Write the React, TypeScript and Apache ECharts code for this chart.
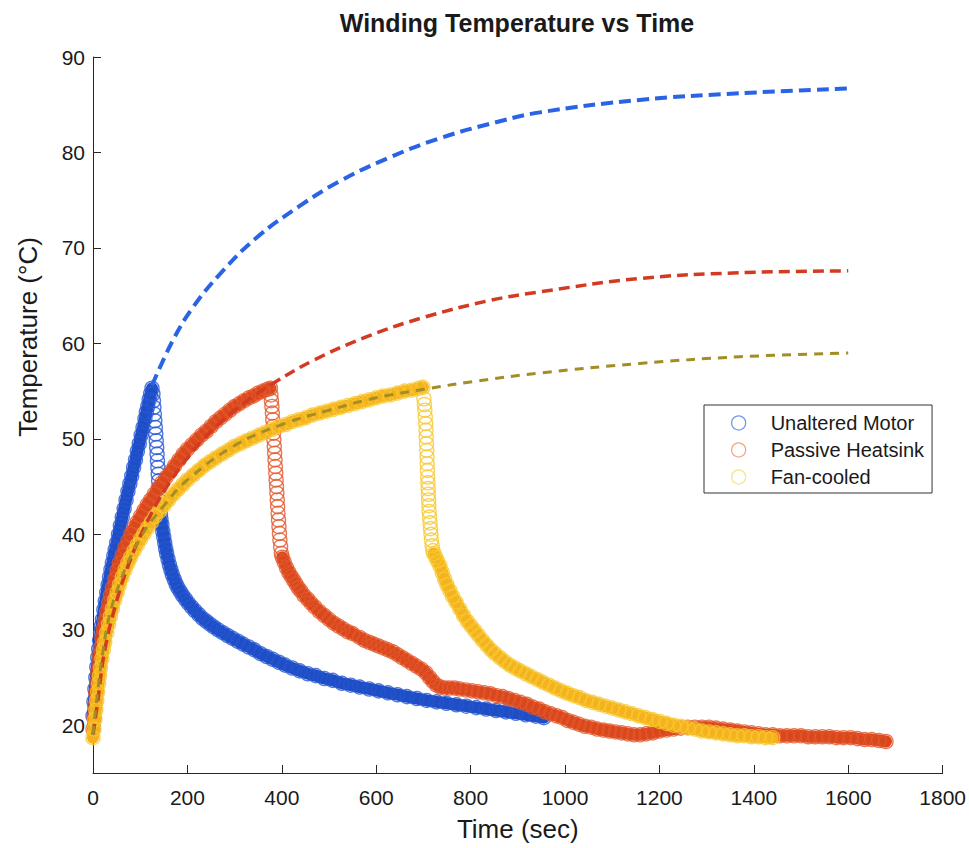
import React, { useEffect, useRef } from "react";
import * as echarts from "echarts";

// ---------- data: [time (s), temperature (°C)] ----------
const blueHeat = [
  [0, 21.0], [2, 22.5], [4, 23.8], [6, 25.0], [8, 26.1], [10, 27.1], [12, 28.0], [14, 28.9],
  [16, 29.7], [18, 30.4], [20, 31.1], [23, 32.1], [26, 33.0], [29, 33.9], [32, 34.7], [35, 35.5],
  [38, 36.3], [41, 37.0], [44, 37.7], [47, 38.4], [50, 39.1], [54, 40.0], [58, 40.9], [62, 41.8],
  [66, 42.7], [70, 43.6], [74, 44.5], [78, 45.3], [82, 46.1], [86, 47.0], [90, 47.8], [94, 48.7],
  [98, 49.5], [102, 50.4], [106, 51.2], [110, 52.1], [113, 52.8], [116, 53.4], [119, 54.1],
  [122, 54.7], [125, 55.3],
];
const blueDrop = [
  [127, 54.7], [128, 54.0], [129, 53.3], [130, 52.6], [131, 51.9], [132, 51.2], [133, 50.5],
  [134, 49.8], [135, 49.1], [135.8, 48.4], [136.6, 47.7], [137.4, 47.0], [138.2, 46.3], [139, 45.6],
  [139.8, 44.9], [140.6, 44.2], [141.4, 43.5], [142.2, 42.8], [143, 42.1],
];
const blueCool = [
  [144, 41.6], [146, 41.0], [148, 40.3], [150, 39.7], [152, 39.1], [154, 38.5], [156, 38.0],
  [159, 37.4], [162, 36.8], [165, 36.3], [168, 35.8], [172, 35.3], [176, 34.8], [180, 34.4],
  [185, 34.0], [190, 33.6], [196, 33.2], [202, 32.8], [209, 32.4], [216, 32.0], [224, 31.6],
  [232, 31.2], [240, 30.9], [248, 30.6], [256, 30.3], [265, 30.0], [275, 29.7], [285, 29.4],
  [296, 29.1], [307, 28.8], [318, 28.5], [330, 28.2], [342, 27.9], [355, 27.5], [368, 27.2],
  [381, 26.9], [394, 26.6], [407, 26.3], [422, 26.0], [438, 25.7], [455, 25.4], [472, 25.2],
  [490, 24.9], [508, 24.7], [527, 24.4], [546, 24.2], [565, 24.0], [585, 23.8], [605, 23.6],
  [625, 23.4], [645, 23.2], [665, 23.0], [686, 22.8], [707, 22.6], [728, 22.45], [749, 22.3],
  [770, 22.15], [791, 22.0], [812, 21.85], [833, 21.7], [854, 21.55], [875, 21.4], [896, 21.25],
  [917, 21.1], [938, 20.95], [955, 20.8],
];

const redHeat = [
  [0, 19.6], [2, 20.8], [4, 22.1], [6, 23.4], [8, 24.6], [10, 25.6], [12, 26.5], [14, 27.3],
  [16, 28.1], [19, 29.2], [22, 30.1], [25, 30.9], [29, 31.9], [33, 32.8], [37, 33.6], [41, 34.4],
  [46, 35.3], [51, 36.2], [56, 37.0], [62, 37.8], [68, 38.6], [74, 39.3], [80, 40.0], [87, 40.7],
  [94, 41.3], [101, 41.9], [108, 42.5], [115, 43.1], [122, 43.6], [130, 44.2], [138, 44.8],
  [146, 45.4], [155, 46.0], [164, 46.6], [173, 47.2], [182, 47.8], [191, 48.4], [200, 48.9],
  [210, 49.4], [220, 49.9], [230, 50.4], [240, 50.8], [250, 51.3], [260, 51.8], [270, 52.2],
  [280, 52.6], [290, 53.0], [300, 53.4], [310, 53.7], [320, 54.0], [330, 54.3], [340, 54.5],
  [350, 54.8], [360, 55.0], [370, 55.2], [376, 55.3],
];
const redDrop = [
  [377, 54.6], [378, 54.0], [379, 53.4], [380, 52.7], [380.8, 52.0], [381.6, 51.3], [382.4, 50.6],
  [383.2, 49.9], [384, 49.2], [384.8, 48.5], [385.6, 47.8], [386.4, 47.1], [387.2, 46.4],
  [388, 45.7], [388.8, 45.0], [389.6, 44.3], [390.4, 43.6], [391.2, 42.9], [392, 42.2],
  [393, 41.5], [394, 40.8], [395, 40.1], [396, 39.4], [397.5, 38.7], [399, 38.0],
];
const redCool = [
  [401, 37.6], [405, 37.1], [410, 36.5], [415, 36.0], [420, 35.6], [425, 35.2], [430, 34.8],
  [435, 34.4], [440, 34.1], [447, 33.6], [455, 33.2], [462, 32.8], [470, 32.4], [480, 31.9],
  [490, 31.5], [500, 31.1], [510, 30.7], [520, 30.4], [530, 30.1], [540, 29.8], [550, 29.6],
  [565, 29.2], [575, 28.9], [585, 28.7], [595, 28.5], [605, 28.3],
  [615, 28.1], [625, 27.9], [635, 27.7], [645, 27.4], [655, 27.1], [665, 26.8], [675, 26.5],
  [685, 26.2], [695, 25.9], [705, 25.5], [713, 25.0], [720, 24.6], [728, 24.2], [736, 24.0],
  [745, 23.9], [755, 23.9], [766, 23.9], [777, 23.8], [790, 23.7], [803, 23.6], [816, 23.5],
  [829, 23.4], [842, 23.3], [855, 23.1], [868, 23.0], [880, 22.8], [893, 22.6], [906, 22.4],
  [919, 22.2], [932, 21.9], [945, 21.7], [958, 21.4], [970, 21.2], [982, 21.0], [994, 20.8],
  [1006, 20.5], [1018, 20.3], [1030, 20.1], [1042, 19.9], [1055, 19.8], [1068, 19.6],
  [1081, 19.5], [1094, 19.4], [1107, 19.3], [1120, 19.2], [1133, 19.1], [1146, 19.0],
  [1159, 19.0], [1172, 19.1], [1186, 19.2], [1200, 19.4], [1215, 19.5], [1230, 19.6],
  [1245, 19.7], [1260, 19.8], [1275, 19.8], [1290, 19.8], [1305, 19.8], [1320, 19.7],
  [1335, 19.6], [1350, 19.5], [1365, 19.4], [1380, 19.3], [1395, 19.2], [1410, 19.1],
  [1425, 19.0], [1440, 19.0], [1455, 18.9], [1470, 18.9], [1485, 18.9], [1500, 18.9],
  [1515, 18.8], [1530, 18.8], [1545, 18.8], [1560, 18.8], [1575, 18.7], [1590, 18.7],
  [1605, 18.7], [1620, 18.6], [1635, 18.5], [1650, 18.5], [1665, 18.4], [1680, 18.3],
];

const fanHeat = [
  [0, 18.7], [2, 19.6], [4, 20.6], [6, 21.6], [8, 22.6], [10, 23.5], [12, 24.4], [14, 25.2],
  [16, 26.0], [19, 27.0], [22, 27.9], [25, 28.7], [29, 29.7], [33, 30.6], [37, 31.4], [41, 32.2],
  [46, 33.1], [51, 33.9], [56, 34.7], [62, 35.5], [68, 36.3], [74, 37.0], [80, 37.6], [87, 38.3],
  [94, 38.9], [101, 39.5], [108, 40.1], [116, 40.7], [124, 41.3], [132, 41.9], [140, 42.4],
  [150, 43.0], [160, 43.6], [170, 44.2], [180, 44.7], [190, 45.2], [200, 45.7], [212, 46.2],
  [224, 46.7], [236, 47.2], [248, 47.6], [260, 48.0], [273, 48.4], [286, 48.8], [299, 49.2],
  [312, 49.5], [325, 49.8], [338, 50.1], [352, 50.4], [366, 50.7], [380, 51.0], [394, 51.3],
  [408, 51.5], [422, 51.8], [436, 52.0], [450, 52.2], [465, 52.5], [480, 52.7], [495, 52.9],
  [510, 53.1], [525, 53.3], [540, 53.5], [555, 53.7], [570, 53.9], [585, 54.1], [600, 54.3],
  [615, 54.5], [630, 54.6], [645, 54.8], [660, 55.0], [675, 55.1], [690, 55.3], [699, 55.4],
];
const fanDrop = [
  [701, 54.2], [702, 53.6], [703, 53.0], [704, 52.3], [705, 51.6], [705.5, 50.9], [706, 50.2],
  [706.5, 49.5], [707, 48.8], [707.5, 48.1], [708, 47.4], [708.5, 46.7], [709, 46.0],
  [709.5, 45.4], [710, 44.8], [710.5, 44.2], [711, 43.6], [711.5, 43.0], [712, 42.4],
  [713, 41.8], [714, 41.2], [715, 40.6], [716, 40.0], [717, 39.4], [718.5, 38.8], [720, 38.3],
];
const fanCool = [
  [722, 38.0], [726, 37.6], [730, 37.2], [735, 36.7], [740, 36.0], [745, 35.3], [750, 34.7],
  [756, 34.1], [762, 33.5], [769, 32.9], [777, 32.2], [785, 31.5], [793, 30.9], [801, 30.4],
  [809, 29.9], [817, 29.4], [825, 28.9], [834, 28.4], [843, 27.9], [852, 27.5], [862, 27.1],
  [872, 26.7], [883, 26.3], [894, 26.0], [905, 25.7], [917, 25.4], [929, 25.1], [941, 24.8],
  [953, 24.5], [966, 24.2], [979, 23.9], [992, 23.6], [1005, 23.35], [1018, 23.1], [1031, 22.9],
  [1044, 22.6], [1058, 22.4], [1072, 22.2], [1086, 22.0], [1100, 21.8], [1114, 21.6],
  [1128, 21.4], [1142, 21.2], [1156, 21.0], [1170, 20.8], [1185, 20.6], [1200, 20.4],
  [1215, 20.2], [1230, 20.0], [1245, 19.9], [1260, 19.7], [1275, 19.6], [1290, 19.4],
  [1305, 19.3], [1320, 19.2], [1335, 19.1], [1350, 19.0], [1365, 18.9], [1380, 18.9],
  [1395, 18.8], [1410, 18.8], [1425, 18.7], [1440, 18.7],
];

// fitted model curves (dashed)
const blueFit = [
  [125, 55.6], [169, 60.3], [212, 63.8], [275, 67.6], [347, 71.1], [438, 74.4], [523, 77.0],
  [629, 79.5], [735, 81.5], [841, 83.0], [947, 84.2], [1158, 85.5], [1370, 86.2], [1600, 86.7],
];
const redFit = [
  [0, 19.0], [10, 22.5], [25, 27.9], [50, 33.0], [75, 36.8], [100, 39.8], [125, 42.3],
  [150, 44.5], [200, 48.0], [250, 50.8], [300, 53.0], [350, 54.8], [381, 55.8], [466, 58.2],
  [580, 60.7], [699, 62.7], [841, 64.5], [947, 65.4], [1158, 66.8], [1370, 67.4], [1600, 67.6],
];
const fanFit = [
  [0, 19.0], [25, 29.0], [50, 34.0], [100, 39.6], [150, 43.0], [200, 45.7], [300, 49.3],
  [400, 51.5], [500, 53.0], [600, 54.3], [714, 55.3], [805, 56.0], [947, 56.9], [1158, 57.9],
  [1370, 58.6], [1600, 59.0],
];

const seriesNames = ["Unaltered Motor", "Passive Heatsink", "Fan-cooled"];

const FONT = '"Liberation Sans", Arial, Helvetica, sans-serif';
const AXIS = "#262626";
const TXT = "#1a1a1a";

const COLORS = {
  blue: { band: "#1f4ec4", ring: "#2456d4", legend: "#4d7ee8", fit: "#2a63e3" },
  red: { band: "#d9471c", ring: "#e3562b", legend: "#ef9068", fit: "#d43a22" },
  fan: { band: "#f5b21e", ring: "#f6c82e", legend: "#f2df66", fit: "#a48d25" },
};

function band(name: string, data: number[][], color: string, z: number) {
  return {
    type: "line",
    name,
    data,
    showSymbol: false,
    symbol: "none",
    silent: true,
    z,
    lineStyle: { color, width: 12, cap: "round", join: "round" },
  };
}

function rings(name: string, data: number[][], color: string, z: number) {
  return {
    type: "scatter",
    name,
    data,
    symbol: "circle",
    symbolSize: 14,
    silent: true,
    z,
    itemStyle: { color: "rgba(0,0,0,0)", borderColor: color, borderWidth: 1.4 },
  };
}

function fit(name: string, data: number[][], color: string, width: number, dash: number[]) {
  return {
    type: "line",
    name,
    data,
    smooth: 0.4,
    showSymbol: false,
    symbol: "none",
    silent: true,
    z: 10,
    lineStyle: { color, width, type: dash, cap: "butt" },
  };
}

export default function App() {
  const ref = useRef<HTMLDivElement>(null);

  useEffect(() => {
    if (!ref.current) return;
    const chart = echarts.init(ref.current, undefined, { renderer: "svg" });
    const option = {
      animation: false,
      backgroundColor: "#ffffff",
      title: {
        text: "Winding Temperature vs Time",
        left: 512,
        top: 5,
        textAlign: "center",
        textStyle: { fontFamily: FONT, fontSize: 25, fontWeight: "bold", color: TXT },
      },
      grid: { left: 93, right: 26, top: 57, bottom: 75 },
      xAxis: {
        type: "value",
        min: 0,
        max: 1800,
        interval: 200,
        name: "Time (sec)",
        nameLocation: "middle",
        nameGap: 43,
        nameTextStyle: { fontFamily: FONT, fontSize: 26, color: TXT },
        axisLine: { show: true, onZero: false, lineStyle: { color: AXIS, width: 1 } },
        axisTick: { show: true, inside: true, length: 8, lineStyle: { color: AXIS, width: 1 } },
        axisLabel: {
          fontFamily: FONT,
          fontSize: 21,
          color: TXT,
          margin: 14,
          formatter: (v: number) => String(v),
        },
        splitLine: { show: false },
      },
      yAxis: {
        type: "value",
        min: 15,
        max: 90,
        splitNumber: 8,
        minInterval: 10,
        maxInterval: 10,
        axisLine: { show: true, onZero: false, lineStyle: { color: AXIS, width: 1 } },
        axisTick: { show: true, inside: true, length: 8, lineStyle: { color: AXIS, width: 1 } },
        axisLabel: {
          fontFamily: FONT,
          fontSize: 21,
          color: TXT,
          margin: 8,
          showMinLabel: false,
          formatter: (v: number) => String(v),
        },
        splitLine: { show: false },
      },
      legend: {
        orient: "vertical",
        left: 704,
        top: 405,
        z: 20,
        backgroundColor: "#ffffff",
        borderColor: "#333333",
        borderWidth: 1,
        borderRadius: 0,
        padding: [8, 8, 6, 27],
        itemWidth: 54,
        itemHeight: 14,
        itemGap: 7,
        selectedMode: false,
        textStyle: { fontFamily: FONT, fontSize: 20, color: TXT },
        data: [
          { name: seriesNames[0], icon: "circle", itemStyle: { color: "rgba(0,0,0,0)", borderColor: COLORS.blue.legend, borderWidth: 1.3 } },
          { name: seriesNames[1], icon: "circle", itemStyle: { color: "rgba(0,0,0,0)", borderColor: COLORS.red.legend, borderWidth: 1.3 } },
          { name: seriesNames[2], icon: "circle", itemStyle: { color: "rgba(0,0,0,0)", borderColor: COLORS.fan.legend, borderWidth: 1.3 } },
        ],
      },
      graphic: [
        {
          type: "text",
          x: 28,
          y: 337,
          rotation: Math.PI / 2,
          silent: true,
          style: {
            text: "Temperature (°C)",
            fontFamily: FONT,
            fontSize: 26,
            fill: TXT,
            align: "center",
            verticalAlign: "middle",
          },
        },
      ],
      series: [
        band("blue-band-a", blueHeat, COLORS.blue.band, 2),
        band("blue-band-b", blueCool, COLORS.blue.band, 2),
        rings(seriesNames[0], [...blueHeat, ...blueDrop, ...blueCool], COLORS.blue.ring, 3),
        band("red-band-a", redHeat, COLORS.red.band, 4),
        band("red-band-b", redCool, COLORS.red.band, 4),
        rings(seriesNames[1], [...redHeat, ...redDrop, ...redCool], COLORS.red.ring, 5),
        band("fan-band-a", fanHeat, COLORS.fan.band, 6),
        band("fan-band-b", fanCool, COLORS.fan.band, 6),
        rings(seriesNames[2], [...fanHeat, ...fanDrop, ...fanCool], COLORS.fan.ring, 7),
        fit("blue-fit", blueFit, COLORS.blue.fit, 4, [12, 6]),
        fit("red-fit", redFit, COLORS.red.fit, 3.5, [11, 6]),
        fit("fan-fit", fanFit, COLORS.fan.fit, 3, [9, 7]),
      ],
    };
    chart.setOption(option as any);
    return () => chart.dispose();
  }, []);

  return (
    <div
      ref={ref}
      style={{ position: "fixed", left: 0, top: 0, width: 969, height: 848, background: "#fff" }}
    />
  );
}
